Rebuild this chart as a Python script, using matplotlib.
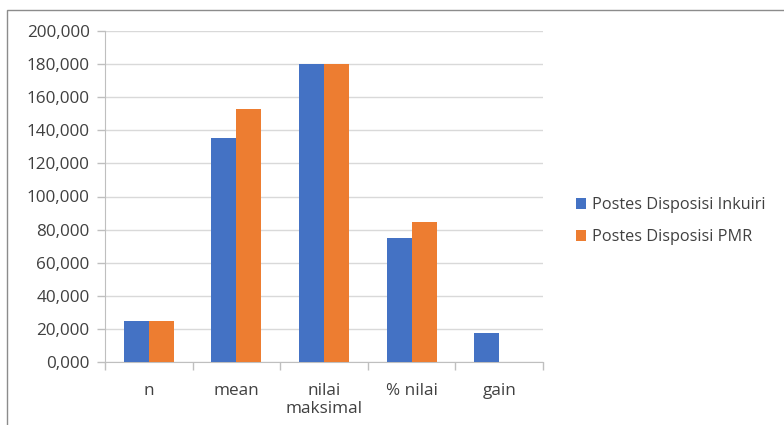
import numpy as np
import matplotlib.pyplot as plt
from matplotlib.patches import Rectangle
from matplotlib.ticker import FuncFormatter, FixedLocator

categories = ['n', 'mean', 'nilai\nmaksimal', '% nilai', 'gain']
inkuiri = [25.0, 135.1, 180.0, 74.9, 17.3]
pmr = [25.0, 153.1, 180.0, 84.6, 0.0]
series_names = ['Postes Disposisi Inkuiri', 'Postes Disposisi PMR']

BLUE = '#4472C4'
ORANGE = '#ED7D31'
TEXT = '#404040'
GRID = '#d9d9d9'
FS = 12.3

plt.rcParams['font.family'] = ['Open Sans', 'DejaVu Sans']

fig = plt.figure(figsize=(7.84, 4.25), dpi=100)
ax = fig.add_axes([105 / 784, 1 - 362 / 425, 438 / 784, 331 / 425])

x = np.arange(len(categories))
w = 0.285
ax.bar(x - w / 2, inkuiri, w, color=BLUE, label=series_names[0], zorder=3)
ax.bar(x + w / 2, pmr, w, color=ORANGE, label=series_names[1], zorder=3)

ax.set_xlim(-0.5, len(categories) - 0.5)
ax.set_ylim(0, 200)
ax.set_yticks(np.arange(0, 201, 20))
ax.yaxis.set_major_formatter(FuncFormatter(lambda v, _: f'{v:.3f}'.replace('.', ',')))
ax.yaxis.grid(True, color=GRID, linewidth=1, zorder=0)

# category labels centred, tick marks on the group boundaries
ax.set_xticks(x)
ax.set_xticklabels(categories, linespacing=1.15)
ax.xaxis.set_minor_locator(FixedLocator(np.arange(-0.5, len(categories), 1.0)))
ax.tick_params(axis='x', which='major', length=0, pad=15, labelsize=FS, colors=TEXT)
ax.tick_params(axis='x', which='minor', length=6, color='#bfbfbf', width=1)
ax.tick_params(axis='y', length=6, color='#bfbfbf', width=1, labelsize=FS,
               labelcolor=TEXT, pad=5)

for side in ['top', 'right']:
    ax.spines[side].set_visible(False)
ax.spines['left'].set_color('#bfbfbf')
ax.spines['bottom'].set_color('#bfbfbf')

leg = fig.legend(loc='center left', bbox_to_anchor=(561 / 784, 1 - 221 / 425),
                 frameon=False, fontsize=11.7, handlelength=0.65, handleheight=0.65,
                 handletextpad=0.35, labelspacing=1.0, labelcolor=TEXT)

# outer chart frame
fig.patches.append(Rectangle((7 / 784, -0.05), 1.0, 1 - 10 / 425 + 0.05,
                             transform=fig.transFigure, fill=False,
                             edgecolor='#8c8c8c', linewidth=1))

fig.savefig('out.png', dpi=100)
